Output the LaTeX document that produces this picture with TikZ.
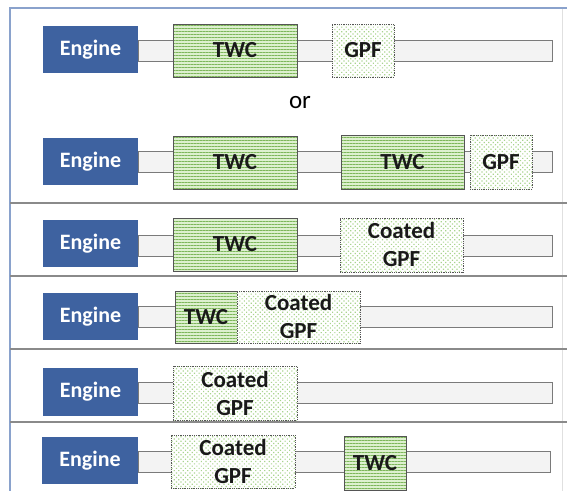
\documentclass[tikz,border=0pt]{standalone}
\usepackage{fontspec}
\setmainfont{Carlito}
\usetikzlibrary{patterns,patterns.meta}
\definecolor{engblue}{HTML}{3E62A0}
\definecolor{twcbg}{HTML}{DDF0CF}
\definecolor{twcline}{HTML}{7DB65A}
\definecolor{gpfdot}{HTML}{A9D48E}
\definecolor{pipefill}{HTML}{F3F3F3}
\definecolor{pipeline}{HTML}{7A7A7A}
\definecolor{frameblue}{HTML}{8AA2CC}
\definecolor{sepgray}{HTML}{8A8A8A}
\definecolor{boxline}{HTML}{555555}
\tikzset{
  x=1pt, y=-1pt,
  base/.style={inner sep=0pt, outer sep=0pt, anchor=north west, align=center},
  engine/.style={base, fill=engblue, text=white, font=\bfseries\fontsize{22}{24}\selectfont,
     minimum width=95pt, minimum height=47pt},
  pipe/.style={base, fill=pipefill, draw=pipeline, line width=0.9pt, minimum height=21pt},
  twc/.style={base, preaction={fill=twcbg}, pattern={Lines[angle=0,distance=3pt,line width=1pt]},
     pattern color=twcline, draw=boxline, line width=0.8pt, text=black!90,
     font=\bfseries\fontsize{23}{28}\selectfont},
  gpf/.style={base, preaction={fill=white}, pattern={Dots[radius=0.85pt,distance=3.2pt,angle=45]},
     pattern color=gpfdot, draw=boxline, densely dotted, line width=0.8pt, text=black!90,
     font=\bfseries\fontsize{23}{28}\selectfont},
  sep/.style={draw=sepgray, line width=1.4pt},
}
\begin{document}
\begin{tikzpicture}
\useasboundingbox (0,0) rectangle (567,491);
% frame
\coordinate (ftl) at (10,8);
\coordinate (ftr) at (567,8);
\coordinate (fbl) at (10,491);
\coordinate (frt) at (562,8);
\coordinate (frb) at (562,491);
\draw[draw=black!12, line width=0.8pt] (frt) -- (frb);
\draw[draw=frameblue, line width=1.8pt] (ftr) -- (ftl) -- (fbl);
% separators
\foreach \yy/\nm in {203/s1,276/s2,349/s3,422/s4}{
  \coordinate (\nm a) at (10,\yy);
  \coordinate (\nm b) at (567,\yy);
  \draw[sep] (\nm a) -- (\nm b);
}
% Row 1
\node[pipe, minimum width=414pt] (p1) at (138,40) {};
\node[engine] (e1) at (43,26) {Engine};
\node[twc, minimum width=124pt, minimum height=53pt] (t1) at (173,24) {TWC};
\node[gpf, minimum width=62pt, minimum height=53pt] (g1) at (332,24) {GPF};
\node[inner sep=0pt, font=\fontsize{25}{27}\selectfont] (or) at (300,103) {or};
% Row 2
\node[pipe, minimum width=414pt] (p2) at (138,151) {};
\node[engine] (e2) at (43,138) {Engine};
\node[twc, minimum width=124pt, minimum height=53pt] (t2a) at (173,136) {TWC};
\node[twc, minimum width=123pt, minimum height=54pt] (t2b) at (341,135) {TWC};
\node[gpf, minimum width=62pt, minimum height=54pt] (g2) at (470,135) {GPF};
% Row 3
\node[pipe, minimum width=414pt] (p3) at (138,235) {};
\node[engine] (e3) at (43,220) {Engine};
\node[twc, minimum width=124pt, minimum height=53pt] (t3) at (173,218) {TWC};
\node[gpf, minimum width=123pt, minimum height=54pt] (g3) at (340,218) {Coated\\GPF};
% Row 4
\node[pipe, minimum width=414pt] (p4) at (138,306) {};
\node[engine] (e4) at (43,293) {Engine};
\node[twc, minimum width=62pt, minimum height=52pt] (t4) at (175,291) {TWC};
\node[gpf, minimum width=123pt, minimum height=52pt] (g4) at (237,291) {Coated\\GPF};
% Row 5
\node[pipe, minimum width=414pt] (p5) at (138,382) {};
\node[engine, minimum height=48pt] (e5) at (43,368) {Engine};
\node[gpf, minimum width=124pt, minimum height=54pt] (g5) at (173,366) {Coated\\GPF};
% Row 6
\node[pipe, minimum width=412pt] (p6) at (138,451) {};
\node[engine, minimum width=96pt] (e6) at (42,437) {Engine};
\node[gpf, minimum width=124pt, minimum height=53pt] (g6) at (171,435) {Coated\\GPF};
\node[twc, minimum width=62pt, minimum height=54pt] (t6) at (344,436) {TWC};
\end{tikzpicture}
\end{document}
